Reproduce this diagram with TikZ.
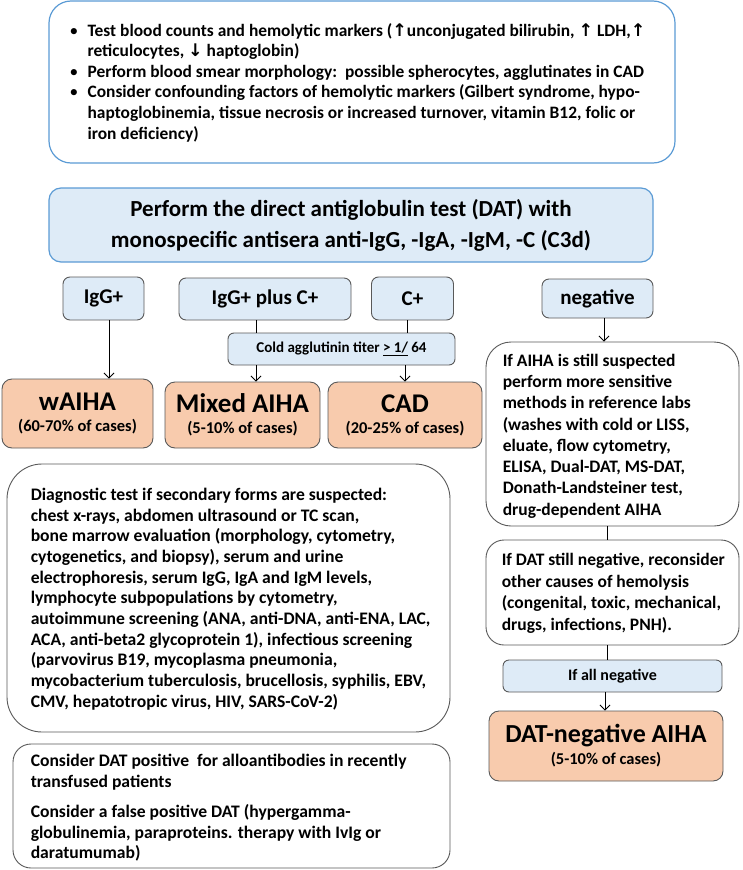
\documentclass[tikz,border=0pt]{standalone}
\usepackage{fontspec}
\setmainfont{Carlito}
\newfontfamily\arw{DejaVu Sans}
\usetikzlibrary{arrows.meta}
\definecolor{blueedge}{HTML}{5B9BD5}
\definecolor{bluefill}{HTML}{DEEBF7}
\definecolor{peach}{HTML}{F8CBAD}
\definecolor{grayedge}{HTML}{595959}
\newcommand\subsz{\fontsize{16.5}{19}\selectfont}
\begin{document}
\begin{tikzpicture}[x=1pt,y=-1pt,
  topbox/.style={draw=blueedge, line width=1.2pt, fill=white, rounded corners=22pt, inner sep=0pt},
  datbox/.style={draw=blueedge, line width=1.2pt, fill=bluefill, rounded corners=12pt, inner sep=0pt, align=center, font=\bfseries\fontsize{23}{31}\selectfont},
  smallbox/.style={draw=grayedge, line width=0.9pt, fill=bluefill, rounded corners=7pt, inner sep=0pt, font=\bfseries\fontsize{21}{24}\selectfont},
  coldbox/.style={draw=grayedge, line width=0.9pt, fill=bluefill, rounded corners=6pt, inner sep=0pt, font=\bfseries\fontsize{15}{17}\selectfont},
  outbox/.style={draw=grayedge, line width=0.9pt, fill=peach, rounded corners=10pt, inner sep=0pt, align=center, font=\bfseries\fontsize{27}{26}\selectfont},
  whitebox/.style={draw=grayedge, line width=0.9pt, fill=white, inner sep=0pt},
  txt/.style={inner sep=0pt, align=left, anchor=west, font=\bfseries\fontsize{17.6}{20.7}\selectfont},
  conn/.style={line width=0.9pt, draw=black},
  arr/.style={conn, -{Straight Barb[length=5pt,width=10pt,line width=0.9pt]}}
]
\useasboundingbox (0,0) rectangle (742,870);

% top box
\node[topbox, minimum width=626pt, minimum height=162pt] (top) at (362,82) {};
\node[txt, font=\bfseries\fontsize{17.4}{20.6}\selectfont] (toptxt) at ([xshift=21pt,yshift=-0.5pt]top.west) {%
\makebox[18pt][l]{\mdseries •}Test blood counts and hemolytic markers ({\arw↑}unconjugated bilirubin, {\arw↑} LDH,{\arw↑}\\
\hspace*{18pt}reticulocytes, {\arw↓} haptoglobin)\\
\makebox[18pt][l]{\mdseries •}Perform blood smear morphology:\ \ possible spherocytes, agglutinates in CAD\\
\makebox[18pt][l]{\mdseries •}Consider confounding factors of hemolytic markers (Gilbert syndrome, hypo-\\
\hspace*{18pt}haptoglobinemia, tissue necrosis or increased turnover, vitamin B12, folic or\\
\hspace*{18pt}iron deficiency)};

% DAT box
\node[datbox, minimum width=604pt, minimum height=74pt] (dat) at (351,225)
  {Perform the direct antiglobulin test (DAT) with\\monospecific antisera anti-IgG, -IgA, -IgM, -C (C3d)};

% result row
\node[smallbox, minimum width=81pt, minimum height=43pt] (igg) at (103.5,298.5) {IgG+};
\node[smallbox, minimum width=172pt, minimum height=42pt] (iggc) at (265,299) {IgG+ plus C+};
\node[smallbox, minimum width=82pt, minimum height=43pt] (cp) at (412.5,298.5) {C+};
\node[smallbox, minimum width=111pt, minimum height=39pt] (neg) at (597.5,298.5) {negative};

\node[coldbox, minimum width=227pt, minimum height=32pt] (cold) at (341.5,349) {Cold agglutinin titer \underline{> 1/} 64};

% outcomes
\node[outbox, minimum width=151pt, minimum height=69pt] (wa) at (77.5,413.5) {wAIHA\\[-5pt]{\subsz (60-70\% of cases)}};
\node[outbox, minimum width=155pt, minimum height=66pt] (mixed) at (242.5,415) {Mixed AIHA\\[-5pt]{\subsz (5-10\% of cases)}};
\node[outbox, minimum width=154pt, minimum height=66pt] (cad) at (405,415) {CAD\\[-5pt]{\subsz (20-25\% of cases)}};

% right column
\node[whitebox, rounded corners=25pt, minimum width=253pt, minimum height=184pt] (aiha) at (612.5,434) {};
\node[txt, font=\bfseries\fontsize{17.5}{21.3}\selectfont] (aihatxt) at ([xshift=17pt,yshift=-2pt]aiha.west) {%
If AIHA is still suspected\\
perform more sensitive\\
methods in reference labs\\
(washes with cold or LISS,\\
eluate, flow cytometry,\\
ELISA, Dual-DAT, MS-DAT,\\
Donath-Landsteiner test,\\
drug-dependent AIHA};

\node[whitebox, rounded corners=18pt, minimum width=253pt, minimum height=105pt] (second) at (612.5,592.5) {};
\node[txt, font=\bfseries\fontsize{17.5}{21.5}\selectfont] (secondtxt) at ([xshift=16pt,yshift=-1pt]second.west) {%
If DAT still negative, reconsider\\
other causes of hemolysis\\
(congenital, toxic, mechanical,\\
drugs, infections, PNH).};

\node[smallbox, rounded corners=6pt, minimum width=219pt, minimum height=32pt, font=\bfseries\fontsize{16}{19}\selectfont] (allneg) at (612.5,676) {If all negative};

\node[outbox, minimum width=234pt, minimum height=70pt, font=\bfseries\fontsize{26}{26}\selectfont] (datneg) at (606,746) {DAT-negative AIHA\\[-4pt]{\subsz (5-10\% of cases)}};

% left lower boxes
\node[whitebox, rounded corners=35pt, minimum width=443pt, minimum height=268pt] (diag) at (228.5,598) {};
\node[txt] (diagtxt) at ([xshift=24pt,yshift=-1pt]diag.west) {%
Diagnostic test if secondary forms are suspected:\\
chest x-rays, abdomen ultrasound or TC scan,\\
bone marrow evaluation (morphology, cytometry,\\
cytogenetics, and biopsy), serum and urine\\
electrophoresis, serum IgG, IgA and IgM levels,\\
lymphocyte subpopulations by cytometry,\\
autoimmune screening (ANA, anti-DNA, anti-ENA, LAC,\\
ACA, anti-beta2 glycoprotein 1), infectious screening\\
(parvovirus B19, mycoplasma pneumonia,\\
mycobacterium tuberculosis, brucellosis, syphilis, EBV,\\
CMV, hepatotropic virus, HIV, SARS-CoV-2)};

\node[whitebox, rounded corners=18pt, minimum width=437pt, minimum height=124pt] (bottom) at (231.5,806) {};
\node[txt] (bottomtxt) at ([xshift=18pt,yshift=-2pt]bottom.west) {%
Consider DAT positive\ \ for alloantibodies in recently\\
transfused patients\\[9pt]
Consider a false positive DAT (hypergamma-\\
globulinemia, paraproteins. therapy with IvIg or\\
daratumumab)};

% connectors
\coordinate (xa) at (109,0);
\coordinate (xb) at (256,0);
\coordinate (xc) at (407,0);
\coordinate (xd) at (405,0);
\coordinate (xn) at (604,0);
\coordinate (xr) at (607,0);
\coordinate (xs) at (605,0);
\draw[arr] (igg.south -| xa) -- (wa.north -| xa);
\draw[conn] (iggc.south -| xb) -- (cold.north -| xb);
\draw[conn] (cp.south -| xc) -- (cold.north -| xc);
\draw[arr] (cold.south -| xb) -- (mixed.north -| xb);
\draw[arr] (cold.south -| xd) -- (cad.north -| xd);
\draw[arr] (neg.south -| xn) -- (aiha.north -| xn);
\draw[conn] (aiha.south -| xr) -- (second.north -| xr);
\draw[conn] (second.south -| xr) -- (allneg.north -| xr);
\draw[arr] (allneg.south -| xs) -- (datneg.north -| xs);
\end{tikzpicture}
\end{document}
